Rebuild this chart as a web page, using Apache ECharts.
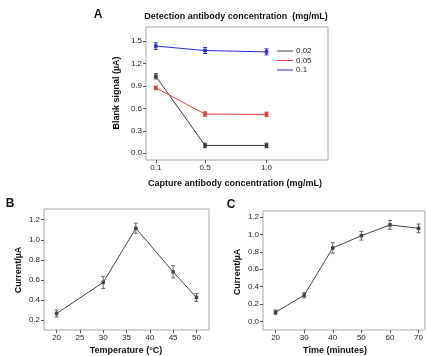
<!DOCTYPE html>
<html>
<head>
<meta charset="utf-8">
<script src="https://cdn.jsdelivr.net/npm/echarts@6/dist/echarts.min.js"></script>
<style>
  html, body { margin: 0; padding: 0; background: #fff; }
  #chart { width: 426px; height: 356px; }
</style>
</head>
<body>
<div id="chart"></div>
<script>
// panel A: blank signal vs capture antibody, one line per detection antibody conc.
const captureConc = [0.1, 0.5, 1.0]
const detectNames = ['0.02', '0.05', '0.1']
const signal002 = [1.03, 0.105, 0.105]
const err002 = [0.035, 0.03, 0.03]
const signal005 = [0.875, 0.525, 0.52]
const err005 = [0.025, 0.03, 0.03]
const signal01 = [1.435, 1.375, 1.357]
const err01 = [0.045, 0.04, 0.04]
const aXTicks = [0.1, 0.5, 1.0]
const aYTicks = [0, 0.3, 0.6, 0.9, 1.2, 1.5]

// panel B: current vs temperature
const temperature = [20, 30, 37, 45, 50]
const currentB = [0.265, 0.575, 1.115, 0.68, 0.425]
const errB = [0.035, 0.06, 0.05, 0.06, 0.04]
const bXTicks = [20, 25, 30, 35, 40, 45, 50]
const bYTicks = [0.2, 0.4, 0.6, 0.8, 1.0, 1.2]

// panel C: current vs time
const timeMin = [20, 30, 40, 50, 60, 70]
const currentC = [0.105, 0.30, 0.845, 0.985, 1.11, 1.07]
const errC = [0.025, 0.03, 0.06, 0.05, 0.05, 0.05]
const cXTicks = [20, 30, 40, 50, 60, 70]
const cYTicks = [0, 0.2, 0.4, 0.6, 0.8, 1.0, 1.2]

const font = 'Liberation Sans'
const textColor = '#222'
const borderColor = '#a8a8a8'

function valueAxis (idx, min, max, ticks, fmt) {
  return {
    type: 'value',
    gridIndex: idx,
    min: min,
    max: max,
    axisLine: { show: false, onZero: false },
    axisTick: { show: true, length: 3, customValues: ticks, lineStyle: { color: '#555' } },
    axisLabel: {
      customValues: ticks,
      formatter: fmt,
      fontFamily: font,
      fontSize: 8,
      color: textColor,
      margin: 4
    },
    splitLine: { show: false }
  }
}

const f1 = v => Number(v).toFixed(1)
const f0 = v => String(Math.round(v))

function errorSeries (gi, xs, ys, es, color) {
  return {
    type: 'custom',
    xAxisIndex: gi,
    yAxisIndex: gi,
    silent: true,
    z: 1,
    data: xs.map((x, i) => [x, ys[i] - es[i], ys[i] + es[i]]),
    encode: { x: 0, y: [1, 2] },
    renderItem (params, api) {
      const lo = api.coord([api.value(0), api.value(1)])
      const hi = api.coord([api.value(0), api.value(2)])
      const w = 2
      const st = { stroke: color, lineWidth: 1 }
      return {
        type: 'group',
        children: [
          { type: 'line', shape: { x1: lo[0], y1: lo[1], x2: hi[0], y2: hi[1] }, style: st },
          { type: 'line', shape: { x1: lo[0] - w, y1: lo[1], x2: lo[0] + w, y2: lo[1] }, style: st },
          { type: 'line', shape: { x1: hi[0] - w, y1: hi[1], x2: hi[0] + w, y2: hi[1] }, style: st }
        ]
      }
    }
  }
}

function lineSeries (gi, name, xs, ys, color) {
  return {
    type: 'line',
    name: name,
    xAxisIndex: gi,
    yAxisIndex: gi,
    data: xs.map((x, i) => [x, ys[i]]),
    symbol: 'rect',
    symbolSize: 3.5,
    z: 2,
    lineStyle: { color: color, width: 1 },
    itemStyle: { color: color }
  }
}

function label (text, x, y, size, rotate) {
  return {
    type: 'text',
    x: x,
    y: y,
    rotation: rotate ? Math.PI / 2 : 0,
    style: {
      text: text,
      fill: '#111',
      font: 'bold ' + size + 'px "' + font + '"',
      align: 'center',
      verticalAlign: 'middle'
    }
  }
}

const colA = ['#3a3a3a', '#e23a3a', '#2b2bd0']
const lineGray = '#444444'
const errGray = '#666666'

const option = {
  animation: false,
  grid: [
    { left: 146, top: 27, width: 182, height: 133, show: true, borderColor: borderColor, borderWidth: 1 },
    { left: 44, top: 209, width: 165, height: 121, show: true, borderColor: borderColor, borderWidth: 1 },
    { left: 263, top: 211, width: 166, height: 119, show: true, borderColor: borderColor, borderWidth: 1 }
  ],
  xAxis: [
    Object.assign(valueAxis(0, 0.02, 1.5, aXTicks, f1), { position: 'bottom' }),
    Object.assign(valueAxis(1, 17.3, 52.7, bXTicks, f0), { position: 'bottom' }),
    Object.assign(valueAxis(2, 15.6, 72.2, cXTicks, f0), { position: 'bottom' })
  ],
  yAxis: [
    Object.assign(valueAxis(0, -0.09, 1.69, aYTicks, f1), { position: 'left' }),
    Object.assign(valueAxis(1, 0.1, 1.307, bYTicks, f1), { position: 'left' }),
    Object.assign(valueAxis(2, -0.1, 1.27, cYTicks, f1), { position: 'left' })
  ],
  legend: {
    data: detectNames,
    orient: 'vertical',
    left: 277,
    top: 47,
    padding: 0,
    itemWidth: 16,
    itemHeight: 1,
    itemGap: 1.5,
    icon: 'rect',
    textStyle: { fontFamily: font, fontSize: 8, color: textColor, padding: [0, 0, 0, -2] }
  },
  graphic: [
    label('A', 98, 15, 12),
    label('Detection antibody concentration  (mg/mL)', 236, 17, 9),
    label('Capture antibody concentration (mg/mL)', 235, 184, 9),
    label('Blank signal (\u00b5A)', 117, 93, 9, true),
    label('B', 10, 204, 12),
    label('Temperature (\u00b0C)', 126, 351, 9),
    label('Current/\u00b5A', 19, 270, 9, true),
    label('C', 231, 205, 12),
    label('Time (minutes)', 335, 351, 9),
    label('Current/\u00b5A', 238, 272, 9, true)
  ],
  series: [
    errorSeries(0, captureConc, signal002, err002, colA[0]),
    errorSeries(0, captureConc, signal005, err005, colA[1]),
    errorSeries(0, captureConc, signal01, err01, colA[2]),
    lineSeries(0, detectNames[0], captureConc, signal002, colA[0]),
    lineSeries(0, detectNames[1], captureConc, signal005, colA[1]),
    lineSeries(0, detectNames[2], captureConc, signal01, colA[2]),
    errorSeries(1, temperature, currentB, errB, errGray),
    lineSeries(1, 'temperature', temperature, currentB, lineGray),
    errorSeries(2, timeMin, currentC, errC, errGray),
    lineSeries(2, 'time', timeMin, currentC, lineGray)
  ]
}

const chart = echarts.init(document.getElementById('chart'))
chart.setOption(option)
</script>
</body>
</html>
